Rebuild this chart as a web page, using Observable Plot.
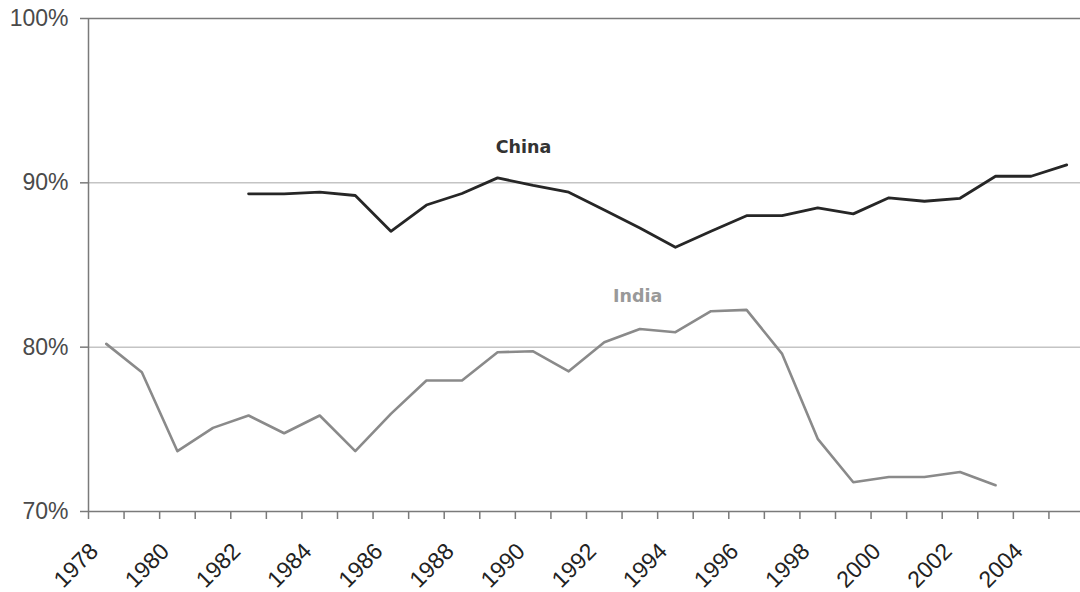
<!DOCTYPE html>
<html><head><meta charset="utf-8">
<script src="https://cdn.jsdelivr.net/npm/d3@7"></script>
<script src="https://cdn.jsdelivr.net/npm/@observablehq/plot@0.6"></script>
<style>html,body{margin:0;padding:0;background:#fff;overflow:hidden}</style>
</head><body><div id="chart"></div>
<script>
// Categories (years on the x axis)
const years = [1978,1979,1980,1981,1982,1983,1984,1985,1986,1987,1988,1989,1990,1991,1992,1993,1994,1995,1996,1997,1998,1999,2000,2001,2002,2003,2004,2005];
// Series: China
const chinaYears = [1982,1983,1984,1985,1986,1987,1988,1989,1990,1991,1992,1993,1994,1995,1996,1997,1998,1999,2000,2001,2002,2003,2004,2005];
const chinaValues = [89.33,89.33,89.43,89.23,87.05,88.65,89.35,90.3,89.84,89.43,88.35,87.25,86.08,87.05,88.0,88.0,88.48,88.11,89.09,88.88,89.06,90.4,90.4,91.09];
// Series: India
const indiaYears = [1978,1979,1980,1981,1982,1983,1984,1985,1986,1987,1988,1989,1990,1991,1992,1993,1994,1995,1996,1997,1998,1999,2000,2001,2002,2003];
const indiaValues = [80.2,78.47,73.67,75.09,75.84,74.76,75.84,73.67,75.94,77.97,77.97,79.69,79.75,78.53,80.3,81.11,80.91,82.19,82.27,79.59,74.42,71.78,72.1,72.1,72.4,71.6];
// Tick labels
const yTicks = [70,80,90,100];
const xTickLabels = [1978,1980,1982,1984,1986,1988,1990,1992,1994,1996,1998,2000,2002,2004];
const seriesNames = ["China","India"];

const china = chinaYears.map((y,i)=>({year:y, value:chinaValues[i]}));
const india = indiaYears.map((y,i)=>({year:y, value:indiaValues[i]}));
const boundaries = years.map(y=>y-0.5).concat([years[years.length-1]+0.5]);

const chart = Plot.plot({
  width:1080, height:592,
  marginLeft:88, marginRight:-4, marginTop:18, marginBottom:81,
  style:{fontFamily:"'Liberation Sans', Arial, sans-serif", background:"#fff", overflow:"visible"},
  x:{type:"linear", domain:[1977.5, 2005.5]},
  y:{domain:[70,100]},
  marks:[
    Plot.ruleY([80,90], {stroke:"#c4c4c4", strokeWidth:1.5}),
    Plot.ruleY([100], {stroke:"#7a7a7a", strokeWidth:1.5}),
    Plot.ruleY([70], {stroke:"#7a7a7a", strokeWidth:1.5}),
    Plot.ruleX([1977.5], {stroke:"#7a7a7a", strokeWidth:1.5}),
    Plot.axisY({ticks:yTicks, tickFormat:d=>d+"%", tickSize:8, tickPadding:12, fontSize:23, fill:"#4a4a4a", stroke:"#7a7a7a", strokeWidth:1.5, label:null}),
    Plot.axisX({ticks:boundaries, tickFormat:()=>"", tickSize:8, stroke:"#7a7a7a", strokeWidth:1.5, label:null}),
    Plot.axisX({ticks:xTickLabels, tickFormat:d=>String(d), tickSize:0, tickRotate:-45, tickPadding:14, fontSize:23, fill:"#222", dx:-12, dy:22, label:null}),
    Plot.line(india, {x:"year", y:"value", stroke:"#8a8a8a", strokeWidth:2.6}),
    Plot.line(china, {x:"year", y:"value", stroke:"#262626", strokeWidth:2.8}),
    Plot.text([seriesNames[0]], {x:1989.73, y:92.15, text:d=>d, fontFamily:"'DejaVu Sans', sans-serif", fontWeight:"bold", fontSize:17.5, fill:"#333"}),
    Plot.text([seriesNames[1]], {x:1992.94, y:83.08, text:d=>d, fontFamily:"'DejaVu Sans', sans-serif", fontWeight:"bold", fontSize:17.5, fill:"#999"})
  ]
});
document.getElementById("chart").appendChild(chart);
</script>
</body></html>
